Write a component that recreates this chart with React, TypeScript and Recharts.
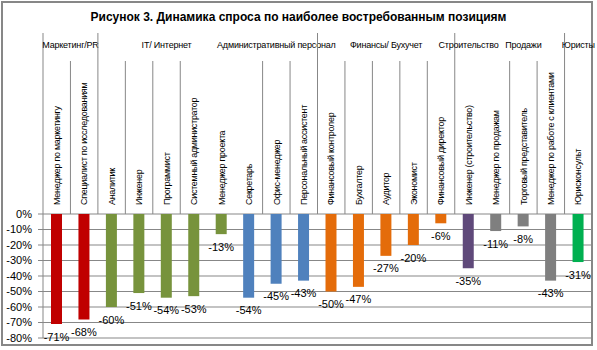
import { Bar, BarChart, CartesianGrid, Cell, LabelList, XAxis, YAxis } from "recharts";

const categories = [
  "Менеджер по маркетингу",
  "Специалист по исследованиям",
  "Аналитик",
  "Инженер",
  "Программист",
  "Системный администратор",
  "Менеджер проекта",
  "Секретарь",
  "Офис-менеджер",
  "Персональный ассистент",
  "Финансовый контролер",
  "Бухгалтер",
  "Аудитор",
  "Экономист",
  "Финансовый директор",
  "Инженер (строительство)",
  "Менеджер по продажам",
  "Торговый представитель",
  "Менеджер по работе с клиентами",
  "Юрисконсульт",
];
const values = [-71, -68, -60, -51, -54, -53, -13, -54, -45, -43, -50, -47, -27, -20, -6, -35, -11, -8, -43, -31];
const groupNames = ["Маркетинг/PR", "IT/ Интернет", "Административный персонал", "Финансы/ Бухучет", "Строительство", "Продажи", "Юристы"];
const groupSizes = [2, 5, 3, 5, 1, 3, 1];
const yTicks = [0, -10, -20, -30, -40, -50, -60, -70, -80];

// colours per group, same order as groupNames
const groupColors = ["#C00000", "#77933C", "#4F81BD", "#E46C0A", "#5F497A", "#7F7F7F", "#00B050"];
// category edges where Excel didn't draw a separator
const hiddenEdges = [6, 7, 16];

const W = 597;
const H = 350;
const MARGIN = { top: 0, right: 5, bottom: 12, left: 0 };
const Y_AXIS_W = 43;
const PLOT_TOP = 214;
const FONT = "'Liberation Sans', Arial, sans-serif";
const LINE = "#878787";

const groupStarts = groupSizes.map((_, g) => groupSizes.slice(0, g).reduce((a, b) => a + b, 0));
const groupOf = (i: number) => {
  let g = 0;
  while (g + 1 < groupStarts.length && groupStarts[g + 1] <= i) g++;
  return g;
};

const data = categories.map((name, i) => ({ name, value: values[i] }));
const band = (W - MARGIN.left - MARGIN.right - Y_AXIS_W) / categories.length;

function CategoryTick(props: any) {
  const { x, payload } = props;
  const i = categories.indexOf(payload.value);
  const left = x - band / 2;
  const g = groupOf(i);
  const isGroupStart = groupStarts[g] === i;
  const showEdge = !hiddenEdges.includes(i);
  const groupCenter = left + (groupSizes[g] * band) / 2;
  return (
    <g>
      {showEdge && (
        <line x1={left} x2={left} y1={isGroupStart ? 33 : 61} y2={PLOT_TOP} stroke={LINE} strokeWidth={1} />
      )}
      {isGroupStart && (
        <text
          x={groupCenter}
          y={48}
          textAnchor="middle"
          fontSize={9}
          letterSpacing={-0.2}
          fill="#000"
          fontFamily={FONT}
        >
          {groupNames[g]}
        </text>
      )}
      <text
        x={x + 3.2}
        y={205}
        transform={`rotate(-90, ${x + 3.2}, 205)`}
        textAnchor="start"
        fontSize={9}
        letterSpacing={-0.3}
        fill="#000"
        fontFamily={FONT}
      >
        {payload.value}
      </text>
    </g>
  );
}

const renderValue = (p: any) => {
  const vb = p.viewBox ?? p;
  const { x, y, width, height } = vb;
  const bottom = Math.max(y, y + height);
  return (
    <text
      x={x + width / 2}
      y={bottom + 12.5}
      textAnchor="middle"
      dominantBaseline="central"
      fontSize={11}
      fill="#000"
      fontFamily={FONT}
    >
      {`${p.value}%`}
    </text>
  );
};

export default function App() {
  return (
    <div style={{ position: "absolute", left: 0, top: 0, width: W, height: H, background: "#fff", fontFamily: FONT }}>
      <div
        style={{
          position: "absolute",
          left: 1,
          top: 1,
          width: 592,
          height: 345,
          border: `2px solid ${LINE}`,
          boxSizing: "border-box",
        }}
      />
      <div
        style={{
          position: "absolute",
          left: 0,
          top: 10,
          width: W,
          textAlign: "center",
          fontWeight: "bold",
          fontSize: 12,
          color: "#000",
        }}
      >
        Рисунок 3. Динамика спроса по наиболее востребованным позициям
      </div>
      <div style={{ position: "absolute", left: 0, top: 0 }}>
        <BarChart width={W} height={H} data={data} margin={MARGIN}>
          <CartesianGrid horizontal vertical={false} stroke={LINE} />
          <XAxis
            dataKey="name"
            orientation="top"
            height={PLOT_TOP - MARGIN.top}
            interval={0}
            tickLine={false}
            axisLine={false}
            tickSize={0}
            tickMargin={0}
            tick={<CategoryTick />}
          />
          <YAxis
            width={Y_AXIS_W}
            domain={[-80, 0]}
            ticks={yTicks}
            interval={0}
            tickFormatter={(v) => `${v}%`}
            tick={{ fontSize: 11, fill: "#000", fontFamily: FONT }}
            tickSize={5}
            tickMargin={6}
            axisLine={{ stroke: LINE }}
            tickLine={{ stroke: LINE }}
          />
          <Bar dataKey="value" barSize={11} isAnimationActive={false}>
            {data.map((_, i) => (
              <Cell key={i} fill={groupColors[groupOf(i)]} />
            ))}
            <LabelList dataKey="value" content={renderValue} />
          </Bar>
        </BarChart>
      </div>
    </div>
  );
}
